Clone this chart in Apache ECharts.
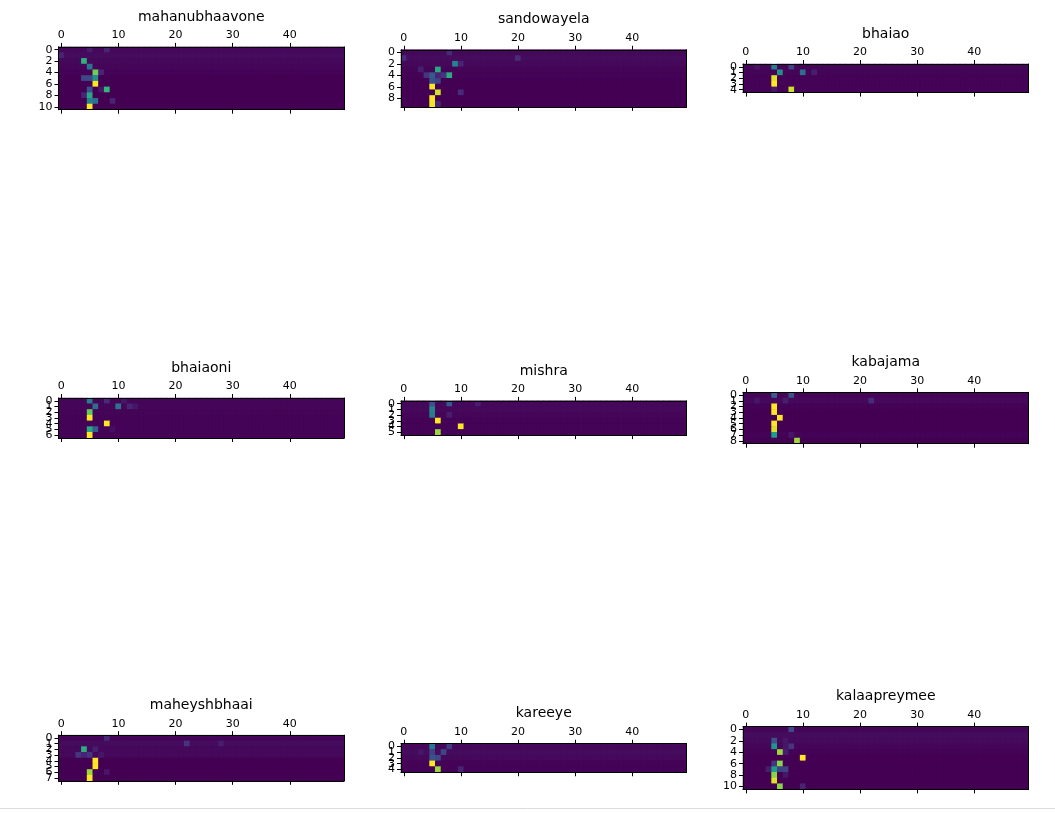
<!doctype html>
<html>
<head>
    <meta charset="utf-8">
    <script src="https://cdn.jsdelivr.net/npm/echarts@6/dist/echarts.min.js"></script>
</head>
<body style="width: 100%; height: 100%; margin: 0; background: #fff">
    <div id="container" style="width: 1055px; height: 813px"></div>
    <script type="text/javascript">
        // attention maps: one per word, rows = output steps, 50 input positions
        var names = ['mahanubhaavone', 'sandowayela', 'bhaiao',
                     'bhaiaoni', 'mishra', 'kabajama',
                     'maheyshbhaai', 'kareeye', 'kalaapreymee'];

        // faint background level per row
        var rowBg = [
            [0.02, 0.03, 0.02, 0.015, 0.005, 0, 0, 0, 0, 0, 0],
            [0.02, 0.03, 0.02, 0.01, 0.005, 0, 0, 0, 0, 0],
            [0.015, 0.01, 0.005, 0.005, 0.005],
            [0.015, 0.015, 0.01, 0.005, 0.005, 0.005, 0.005],
            [0.02, 0.02, 0.015, 0.005, 0.005, 0.005],
            [0.015, 0.02, 0.005, 0, 0, 0, 0, 0.005, 0],
            [0.015, 0.03, 0.02, 0.02, 0, 0, 0, 0],
            [0.02, 0.03, 0.02, 0.005, 0.005],
            [0.015, 0.03, 0.025, 0.015, 0.005, 0, 0, 0, 0, 0, 0]
        ];

        // distinct cells: [row, col, weight]
        var peaks = [
            [[0, 5, 0.08], [0, 8, 0.1], [1, 0, 0.1], [2, 4, 0.64], [3, 5, 0.38],
             [4, 6, 0.78], [4, 7, 0.1], [5, 4, 0.22], [5, 5, 0.22], [5, 6, 0.5],
             [6, 6, 1.0], [7, 5, 0.25], [7, 7, 0.06], [7, 8, 0.66], [8, 4, 0.1],
             [8, 5, 0.6], [9, 5, 0.45], [9, 6, 0.37], [9, 9, 0.1], [10, 5, 1.0]],
            [[0, 8, 0.12], [1, 0, 0.12], [1, 20, 0.12], [2, 9, 0.45], [2, 10, 0.1],
             [3, 3, 0.08], [3, 6, 0.6], [4, 4, 0.15], [4, 5, 0.28], [4, 6, 0.1],
             [4, 7, 0.15], [4, 8, 0.62], [5, 5, 0.25], [5, 6, 0.2], [6, 5, 1.0],
             [7, 6, 0.93], [7, 10, 0.12], [8, 5, 1.0], [9, 5, 0.98], [9, 6, 0.1]],
            [[0, 2, 0.05], [0, 5, 0.42], [0, 8, 0.2], [1, 6, 0.5], [1, 10, 0.35],
             [1, 12, 0.08], [2, 5, 0.95], [3, 5, 1.0], [4, 5, 0.06], [4, 8, 0.92]],
            [[0, 5, 0.42], [0, 8, 0.12], [0, 11, 0.06], [1, 6, 0.35], [1, 10, 0.38],
             [1, 12, 0.1], [1, 13, 0.06], [2, 5, 0.75], [3, 5, 1.0], [4, 8, 1.0],
             [5, 5, 0.6], [5, 6, 0.3], [5, 9, 0.04], [6, 5, 1.0]],
            [[0, 5, 0.25], [0, 8, 0.28], [0, 13, 0.08], [1, 5, 0.45], [2, 5, 0.42],
             [2, 8, 0.08], [3, 6, 1.0], [4, 10, 1.0], [5, 6, 0.85]],
            [[0, 5, 0.3], [0, 8, 0.25], [1, 2, 0.06], [1, 7, 0.08], [1, 22, 0.12],
             [2, 5, 1.0], [3, 5, 1.0], [4, 6, 1.0], [5, 5, 1.0], [6, 5, 0.95],
             [7, 5, 0.55], [7, 8, 0.06], [8, 9, 0.85]],
            [[0, 8, 0.12], [1, 22, 0.15], [1, 28, 0.08], [2, 4, 0.62], [2, 6, 0.08],
             [3, 3, 0.15], [3, 4, 0.1], [3, 5, 0.15], [3, 7, 0.06], [4, 6, 1.0],
             [5, 6, 1.0], [6, 5, 0.85], [6, 8, 0.06], [7, 5, 1.0]],
            [[0, 5, 0.4], [0, 8, 0.18], [1, 3, 0.06], [1, 5, 0.2], [1, 7, 0.22],
             [2, 5, 0.25], [2, 6, 0.22], [3, 5, 1.0], [4, 6, 0.85], [4, 10, 0.1]],
            [[0, 8, 0.22], [2, 5, 0.25], [2, 7, 0.06], [3, 5, 0.52], [3, 7, 0.06],
             [3, 8, 0.15], [4, 6, 0.85], [4, 7, 0.08], [5, 10, 1.0], [6, 5, 0.15],
             [6, 6, 0.82], [7, 4, 0.08], [7, 5, 0.55], [7, 6, 0.2], [7, 7, 0.2],
             [8, 5, 0.82], [8, 7, 0.06], [9, 5, 0.95], [10, 6, 0.82], [10, 10, 0.1]]
        ];

        var nCols = 50;
        var viridis = ['#440154', '#482878', '#3e4989', '#31688e', '#26828e',
                       '#1f9e89', '#35b779', '#6ece58', '#b5de2b', '#fde725'];

        // layout
        var cell = 285.5 / nCols;
        var colLeft = [58.5, 401, 743];
        var rowMid = [78.3, 418, 758];
        var font = 'DejaVu Sans';

        var cols = [];
        for (var c = 0; c < nCols; c++) cols.push(String(c));

        var grids = [], xAxes = [], yAxes = [], series = [], texts = [];

        names.forEach(function (name, i) {
            var nRows = rowBg[i].length;
            var rows = [];
            for (var r = 0; r < nRows; r++) rows.push(String(r));

            var m = [];
            for (var r = 0; r < nRows; r++) {
                m.push([]);
                for (var c = 0; c < nCols; c++) m[r].push(rowBg[i][r]);
            }
            peaks[i].forEach(function (p) { m[p[0]][p[1]] = p[2]; });
            var data = [];
            for (var r = 0; r < nRows; r++)
                for (var c = 0; c < nCols; c++) data.push([c, r, m[r][c]]);

            var left = colLeft[i % 3];
            var h = nRows * cell;
            var top = rowMid[Math.floor(i / 3)] - h / 2;
            var w = nCols * cell;

            // dark fill behind the cells hides the seams between rects
            grids.push({left: left, top: top, width: w, height: h,
                        show: true, backgroundColor: viridis[0], borderWidth: 0});

            var yInt = nRows >= 10 ? 1 : 0;
            var line = {show: true, lineStyle: {color: '#000', width: 1}};
            var tick = {show: true, lineStyle: {color: '#000', width: 1}, length: 4};

            xAxes.push({
                gridIndex: i, type: 'category', position: 'top', data: cols, z: 5,
                axisLine: line,
                axisTick: Object.assign({interval: 9, alignWithLabel: true}, tick),
                axisLabel: {interval: 9, margin: 6, fontSize: 11, color: '#000', fontFamily: font},
                splitLine: {show: false}
            });
            xAxes.push({
                gridIndex: i, type: 'category', position: 'bottom', data: cols, z: 5,
                axisLine: line,
                axisTick: Object.assign({interval: 9, alignWithLabel: true}, tick),
                axisLabel: {show: false},
                splitLine: {show: false}
            });
            yAxes.push({
                gridIndex: i, type: 'category', position: 'left', data: rows, inverse: true, z: 5,
                axisLine: line,
                axisTick: Object.assign({interval: yInt, alignWithLabel: true}, tick),
                axisLabel: {interval: yInt, margin: 6, fontSize: 11, color: '#000', fontFamily: font},
                splitLine: {show: false}
            });
            yAxes.push({
                gridIndex: i, type: 'category', position: 'right', data: rows, inverse: true, z: 5,
                axisLine: line,
                axisTick: {show: false},
                axisLabel: {show: false},
                splitLine: {show: false}
            });

            series.push({
                name: name, type: 'heatmap',
                xAxisIndex: 2 * i, yAxisIndex: 2 * i,
                data: data,
                emphasis: {disabled: true}
            });

            texts.push({
                type: 'text', x: left + w / 2, y: top - 30,
                style: {text: name, align: 'center', verticalAlign: 'middle',
                        font: '14px "DejaVu Sans"', fill: '#000'}
            });
        });

        texts.push({
            type: 'line', shape: {x1: 0, y1: 808.5, x2: 1055, y2: 808.5},
            style: {stroke: '#dcdcdc', lineWidth: 1}
        });

        var option = {
            animation: false,
            backgroundColor: '#fff',
            grid: grids,
            xAxis: xAxes,
            yAxis: yAxes,
            visualMap: {
                type: 'continuous', show: false, min: 0, max: 1, dimension: 2,
                inRange: {color: viridis}
            },
            graphic: texts,
            series: series
        };

        var myChart = echarts.init(document.getElementById('container'));
        myChart.setOption(option);
    </script>
</body>
</html>
